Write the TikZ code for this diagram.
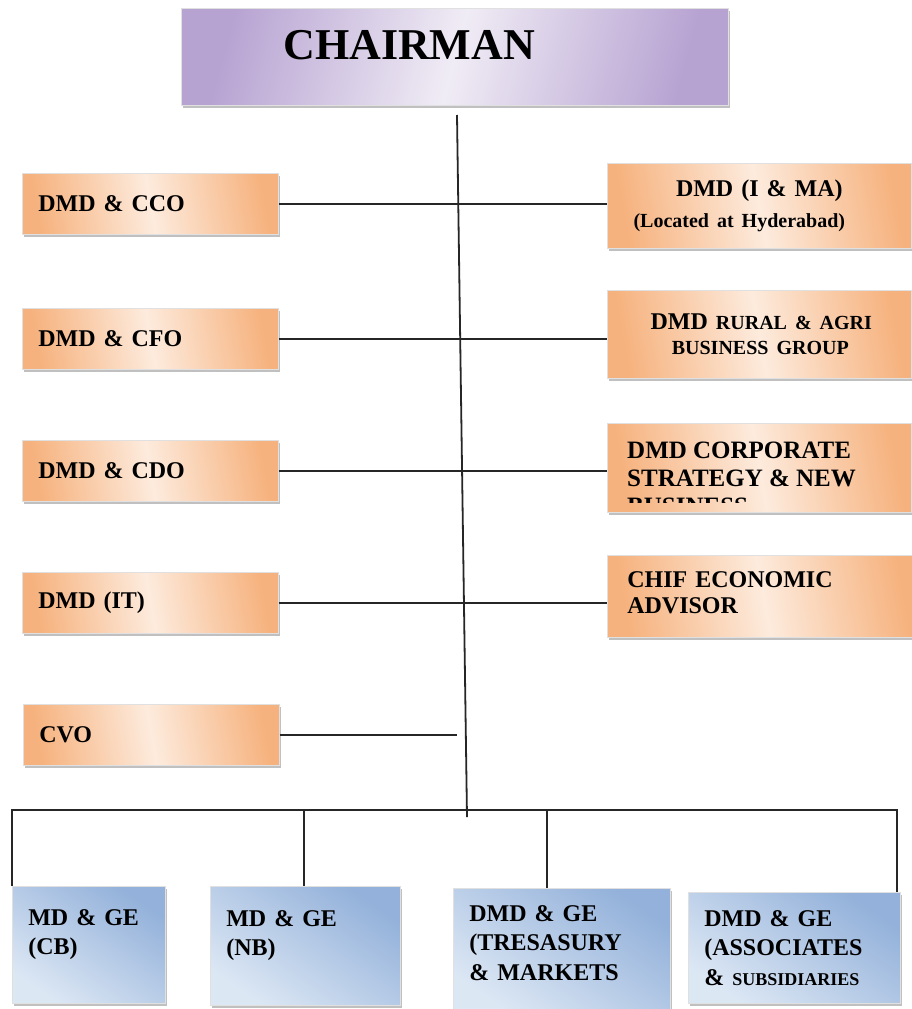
\documentclass[tikz,border=0pt]{standalone}
\usepackage{fontspec}
\setmainfont{Liberation Serif}
\usetikzlibrary{shadows}
\definecolor{peachD}{HTML}{F6B27E}
\definecolor{peachL}{HTML}{FDEBDD}
\definecolor{lilacD}{HTML}{B7A3D2}
\definecolor{lilacL}{HTML}{F0ECF5}
\definecolor{blueD}{HTML}{93B1DA}
\definecolor{blueL}{HTML}{DCE7F4}
\tikzset{
  base/.style={rectangle, anchor=north west, inner xsep=16pt, inner ysep=4pt,
    draw=black!12, line width=0.6pt, font=\bfseries,
    drop shadow={shadow xshift=1.5pt, shadow yshift=-3pt, opacity=0.45, fill=black!55}},
  obox/.style={base, left color=peachD, right color=peachD, middle color=peachL, shading angle=100},
  bbox/.style={base, top color=blueD, bottom color=blueL, shading angle=-35, align=left, anchor=north west},
  pbox/.style={base, left color=lilacD, right color=lilacD, middle color=lilacL, shading angle=75},
  link/.style={draw=black!85, line width=1.8pt},
  big/.style={font=\fontsize{24}{29.5}\selectfont\bfseries},
}
\begin{document}
\begin{tikzpicture}[x=1pt,y=-1pt]
\useasboundingbox (0,0) rectangle (911,1009);
% chairman
\node[pbox, minimum width=547, minimum height=97, text width=515, align=left,
  font=\fontsize{44}{48}\selectfont\bfseries] (chair) at (181,8)
  {\hspace*{86pt}CHAIRMAN\\[-24pt]\mbox{}};
% left boxes
\node[obox, big, minimum height=61, text width=224, align=left] (cco) at (22,173) {DMD \& CCO};
\node[obox, big, minimum height=61, text width=224, align=left] (cfo) at (22,308) {DMD \& CFO};
\node[obox, big, minimum height=61, text width=224, align=left] (cdo) at (22,440) {DMD \& CDO};
\node[obox, big, minimum height=61, text width=224, align=left] (dit) at (22,572) {DMD (IT)};
\node[obox, big, minimum height=61, text width=224, align=left] (cvo) at (23,704) {CVO};
% right boxes
\node[obox, big, minimum height=85, text width=272, align=center, inner xsep=16pt] (imma) at (607,163)
  {\hspace*{0pt}DMD (I \& MA)\\[2pt]{\fontsize{20}{22}\selectfont\hspace*{-40pt}(Located at Hyderabad)}};
\node[obox, big, minimum height=88, text width=272, align=center] (rural) at (607,290)
  {\hspace*{4pt}DMD {\fontsize{20}{22}\selectfont RURAL \& AGRI}\\[-4pt]{\fontsize{20}{22}\selectfont\hspace*{2pt}BUSINESS GROUP}};
\node[obox, minimum height=89, minimum width=304] (corp) at (607,423) {};
\begin{scope}
  \clip (607,423) rectangle (911,502);
  \node[anchor=north west, align=left, inner sep=0pt, font=\fontsize{25}{28}\selectfont\bfseries] (corptext)
    at (627,442) {DMD CORPORATE\\STRATEGY \& NEW\\BUSINESS};
\end{scope}
\node[obox, big, minimum height=82, text width=272, align=left, inner xsep=20pt] (chif) at (607,555)
  {CHIF ECONOMIC\\[-4pt]ADVISOR\\[-21.5pt]\mbox{}};
% bottom boxes
\node[bbox, big, minimum width=153, minimum height=117, text width=121, inner ysep=12pt] (cb) at (12,886)
  {MD \& GE\\(CB)\\[-3.5pt]\mbox{}};
\node[bbox, big, minimum width=190, minimum height=119, text width=158, inner ysep=12pt] (nb) at (210,886)
  {MD \& GE\\(NB)\\[-3.5pt]\mbox{}};
\node[bbox, big, minimum width=217, minimum height=125, text width=185, inner ysep=10pt] (tre) at (453,888)
  {DMD \& GE\\(TRESASURY\\\& MARKETS\\[-13.5pt]\mbox{}};
\node[bbox, big, minimum width=212, minimum height=111, text width=180, inner ysep=8pt] (asso) at (688,892)
  {DMD \& GE\\(ASSOCIATES\\\& {\fontsize{18}{22}\selectfont SUBSIDIARIES}};
% connectors
\coordinate (ttop) at (457,115);
\coordinate (tbot) at (467,817);
\coordinate (cvoend) at (457,735);
\coordinate (busL) at (12,810);
\coordinate (busR) at (897,810);
\draw[link] (ttop) -- (tbot);
\draw[link] (cco.east) -- (cco.east -| imma.west);
\draw[link] (cfo.east) -- (cfo.east -| rural.west);
\draw[link] (cdo.east) -- (cdo.east -| corp.west);
\draw[link] (dit.east) -- (dit.east -| chif.west);
\draw[link] (cvo.east) -- (cvo.east -| cvoend);
\draw[link] (cb.north west) -- (busL) -- (busR) -- (busR |- asso.north);
\draw[link] (nb.north -| 304,0) -- (busL -| 304,0);
\draw[link] (tre.north -| 547,0) -- (busL -| 547,0);
\end{tikzpicture}
\end{document}
